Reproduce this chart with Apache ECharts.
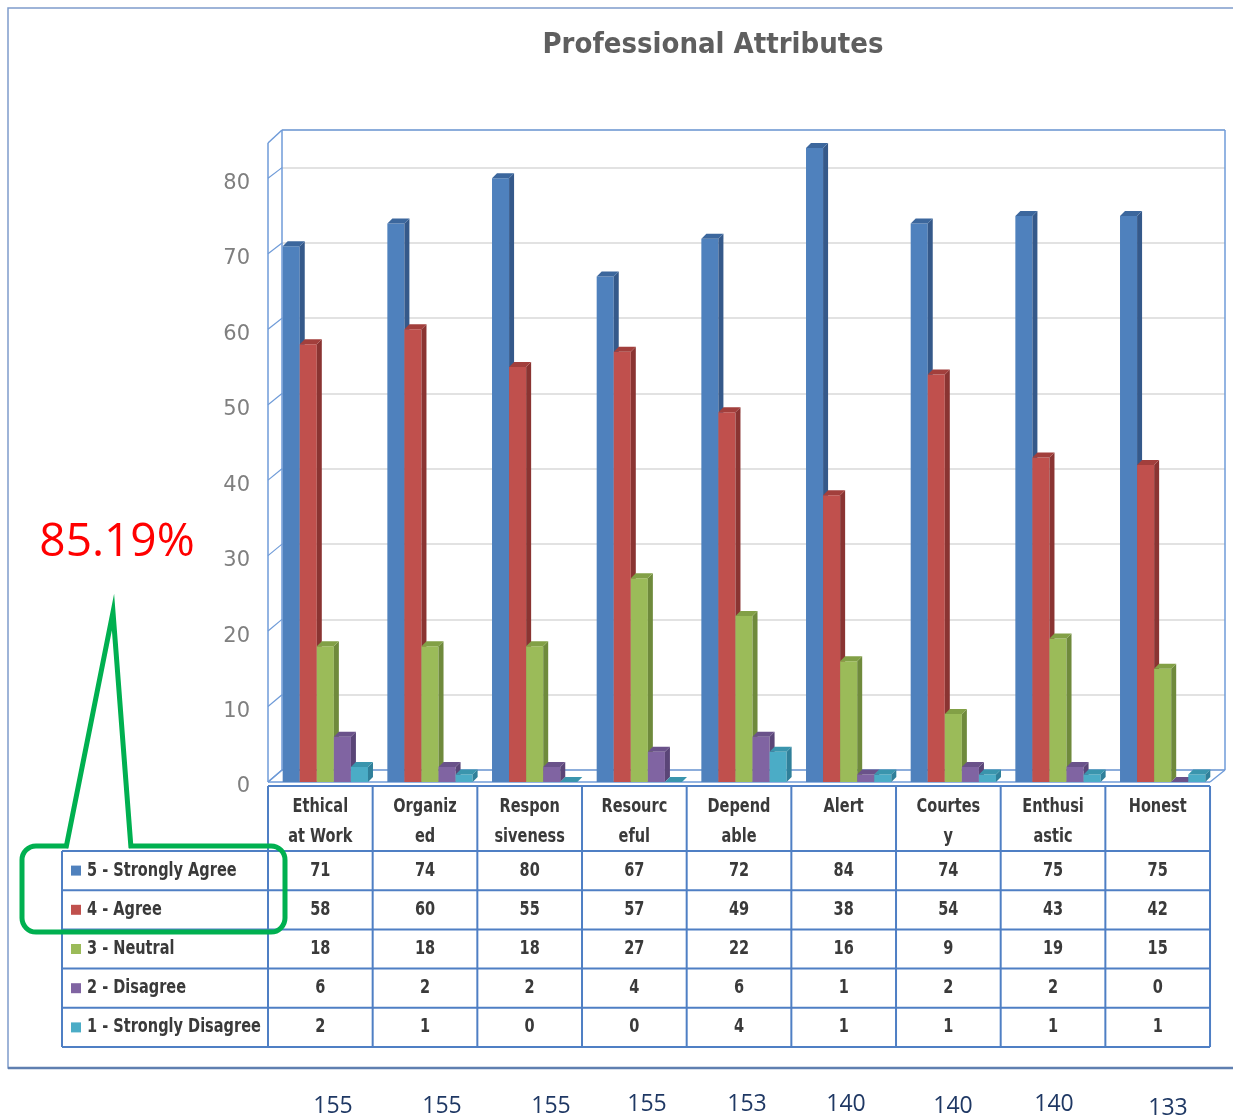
<!DOCTYPE html>
<html lang="en">
<head>
<meta charset="utf-8">
<title>Professional Attributes</title>
<script src="https://cdn.jsdelivr.net/npm/echarts@6/dist/echarts.min.js"></script>
<style>
  html, body { margin: 0; padding: 0; background: #fff; }
  #main { width: 1233px; height: 1120px; }
</style>
</head>
<body>
<div id="main"></div>
<script>
// data
var categories = ['Ethical\nat Work', 'Organiz\ned', 'Respon\nsiveness', 'Resourc\neful', 'Depend\nable', 'Alert', 'Courtes\ny', 'Enthusi\nastic', 'Honest'];
var seriesNames = ['5 - Strongly Agree', '4 - Agree', '3 - Neutral', '2 - Disagree', '1 - Strongly Disagree'];
var stronglyAgree = [71, 74, 80, 67, 72, 84, 74, 75, 75];
var agree = [58, 60, 55, 57, 49, 38, 54, 43, 42];
var neutral = [18, 18, 18, 27, 22, 16, 9, 19, 15];
var disagree = [6, 2, 2, 4, 6, 1, 2, 2, 0];
var stronglyDisagree = [2, 1, 0, 0, 4, 1, 1, 1, 1];
var totals = [155, 155, 155, 155, 153, 140, 140, 140, 133];
var highlight = '85.19%';

var seriesData = [stronglyAgree, agree, neutral, disagree, stronglyDisagree];
var colors = ['#4f81bd', '#c0504d', '#9bbb59', '#8064a2', '#4bacc6'];
var sideColors = ['#35598a', '#8a3432', '#6f8a3c', '#5a4577', '#30809a'];
var topColors = ['#3c679d', '#a23f3c', '#82a046', '#6a528a', '#3a95ad'];

var condensed = "'DejaVu Sans Condensed', 'DejaVu Sans', sans-serif";
var wallColor = '#6f9bd8';

var chart = echarts.init(document.getElementById('main'));

// fake 3D column: front face, right side, top
function bar3d(si) {
  return function (params, api) {
    var c = api.value(0), v = api.value(1);
    var p0 = api.coord([c, 0]);
    var p1 = api.coord([c, v]);
    var band = api.size([1, 0])[0];
    var w = band * 0.163;
    var dx = 5, dy = 5;
    var x0 = p0[0] - 2.5 * w + si * w + 1;
    var x1 = x0 + w;
    var yb = p0[1], yt = p1[1];
    return {
      type: 'group',
      children: [
        { type: 'rect', shape: { x: x0, y: yt, width: w, height: yb - yt }, style: { fill: colors[si] } },
        { type: 'polygon', shape: { points: [[x1, yt], [x1 + dx, yt - dy], [x1 + dx, yb - dy], [x1, yb]] }, style: { fill: sideColors[si] } },
        { type: 'polygon', shape: { points: [[x0, yt], [x0 + dx, yt - dy], [x1 + dx, yt - dy], [x1, yt]] }, style: { fill: topColors[si] } }
      ]
    };
  };
}

var series = seriesNames.map(function (name, si) {
  return {
    name: name,
    type: 'custom',
    xAxisIndex: 0,
    yAxisIndex: 0,
    renderItem: bar3d(si),
    encode: { x: 0, y: 1 },
    data: seriesData[si].map(function (v, i) { return [i, v]; }),
    z: 3
  };
});

chart.setOption({
  animation: false,
  title: {
    text: 'Professional Attributes',
    left: 708,
    top: 26,
    textAlign: 'center',
    textStyle: { fontFamily: condensed, fontSize: 29, fontWeight: 'bold', color: '#5f5f5f' }
  },
  grid: [
    { left: 272, right: 19, top: 133, height: 649 },
    { left: 282, right: 8, top: 130, height: 640 }
  ],
  xAxis: [
    { type: 'category', gridIndex: 0, data: categories, show: false },
    { type: 'category', gridIndex: 1, data: categories, show: false }
  ],
  yAxis: [
    {
      type: 'value', gridIndex: 0, min: 0, max: 86, interval: 10,
      axisLine: { show: false }, axisTick: { show: false }, splitLine: { show: false },
      axisLabel: { showMaxLabel: false, margin: 22, verticalAlign: 'top', lineHeight: 10, color: '#7f7f7f', fontSize: 21, fontFamily: "'DejaVu Sans', sans-serif" }
    },
    {
      type: 'value', gridIndex: 1, min: 0, max: 85, interval: 10,
      axisLine: { show: false }, axisTick: { show: false }, axisLabel: { show: false },
      splitLine: { lineStyle: { color: '#d9d9d9', width: 1.5 } }
    }
  ],
  series: series
});

// box edges, data table, annotation
function buildGraphics() {
  var g = [];
  var line = function (x1, y1, x2, y2, color, width, z) {
    g.push({ type: 'line', z: z || 1, shape: { x1: x1, y1: y1, x2: x2, y2: y2 }, style: { stroke: color, lineWidth: width } });
  };
  var text = function (x, y, str, opts, sx) {
    g.push({ type: 'text', z: 5, x: x, y: y, scaleX: sx || 1, style: Object.assign({ text: str }, opts) });
  };

  // outer frame
  g.push({ type: 'rect', z: 0, shape: { x: 8, y: 8, width: 1240, height: 1060 }, style: { fill: 'none', stroke: '#7f9ccc', lineWidth: 1.5 } });
  line(8, 1068, 1233, 1068, '#5f7fb0', 2.5);

  // walls
  line(282, 130, 1225, 130, wallColor, 1.5);
  line(282, 130, 282, 770, wallColor, 1.5);
  line(1225, 130, 1225, 770, wallColor, 1.5);
  line(282, 770, 1225, 770, wallColor, 1.5);
  line(268, 143, 268, 782, wallColor, 1.5);
  line(268, 143, 282, 130, wallColor, 1.5);
  line(268, 782, 282, 770, wallColor, 1.5);
  line(1210, 782, 1225, 770, wallColor, 1.5);
  line(268, 782, 1210, 782, wallColor, 1.5);
  // left wall ticks joining front scale to back wall
  for (var v = 0; v <= 80; v += 10) {
    var yf = chart.convertToPixel({ yAxisIndex: 0 }, v);
    var yk = chart.convertToPixel({ yAxisIndex: 1 }, v);
    line(268, yf, 282, yk, wallColor, 1.2);
  }

  // data table
  var tLeft = 268, colW = 104.67, lLeft = 62, headTop = 786, rowTop = 851, rowH = 39.2;
  var tRight = tLeft + colW * categories.length;
  var tBottom = rowTop + rowH * seriesNames.length;
  var tc = '#4f7fc4';
  line(tLeft, headTop, tRight, headTop, tc, 2, 4);
  for (var r = 0; r <= seriesNames.length; r++) {
    line(lLeft, rowTop + rowH * r, tRight, rowTop + rowH * r, tc, 2, 4);
  }
  line(lLeft, rowTop, lLeft, tBottom, tc, 2, 4);
  for (var c = 0; c <= categories.length; c++) {
    line(tLeft + colW * c, headTop, tLeft + colW * c, tBottom, tc, 2, 4);
  }
  var cellFont = { font: 'bold 19px ' + condensed, fill: '#3a3a3a' };
  var sx = 0.85;
  categories.forEach(function (name, i) {
    text(tLeft + colW * (i + 0.5), 792, name, Object.assign({ align: 'center', verticalAlign: 'top', lineHeight: 30 }, cellFont), sx);
  });
  seriesNames.forEach(function (name, si) {
    var cy = rowTop + rowH * (si + 0.5);
    g.push({ type: 'rect', z: 5, shape: { x: 71, y: cy - 5, width: 10, height: 10 }, style: { fill: colors[si] } });
    text(87, cy, name, Object.assign({ align: 'left', verticalAlign: 'middle' }, cellFont), sx);
    seriesData[si].forEach(function (val, i) {
      text(tLeft + colW * (i + 0.5), cy, String(val), Object.assign({ align: 'center', verticalAlign: 'middle' }, cellFont), sx);
    });
  });

  // totals under the frame
  var totalsX = [333, 442, 551, 647, 747, 846, 953, 1054, 1168];
  var totalsY = [1106, 1106, 1106, 1104, 1104, 1104, 1106, 1104, 1108];
  totals.forEach(function (t, i) {
    text(totalsX[i], totalsY[i], String(t), { align: 'center', verticalAlign: 'middle', font: "23px 'Open Sans', sans-serif", fill: '#1f3864' });
  });

  // red percentage and green callout
  text(117, 543, highlight, { align: 'center', verticalAlign: 'middle', font: "46px 'Open Sans', sans-serif", fill: '#ff0000' });
  var green = '#00b050';
  g.push({ type: 'rect', z: 6, shape: { x: 22, y: 846, width: 263, height: 86, r: 14 }, style: { fill: 'none', stroke: green, lineWidth: 5 } });
  line(68, 846, 129, 846, '#ffffff', 7, 7);
  g.push({ type: 'polyline', z: 8, shape: { points: [[66, 848], [113, 612], [131, 848]] }, style: { fill: 'none', stroke: green, lineWidth: 5, lineJoin: 'miter' } });
  return g;
}

chart.setOption({ graphic: buildGraphics() });
</script>
</body>
</html>
